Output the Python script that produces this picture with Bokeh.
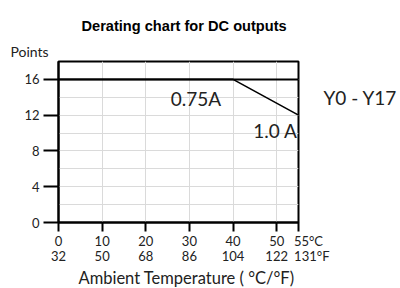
from bokeh.plotting import figure
from bokeh.models import Title, FixedTicker, SingleIntervalTicker, LinearAxis, Label
from bokeh.embed import file_html
from bokeh.resources import INLINE

# ---- data ----
title_text = "Derating chart for DC outputs"
x_axis_title = "Ambient Temperature ( °C/°F)"
y_axis_title = "Points"
group_label = "Y0 - Y17"

celsius_ticks = [0, 10, 20, 30, 40, 50, 55]
celsius_labels = ["0", "10", "20", "30", "40", "50", "55°C"]
fahrenheit_labels = ["32", "50", "68", "86", "104", "122", "131°F"]
points_ticks = [0, 4, 8, 12, 16]

series_075_name = "0.75A"
temp_075 = [0, 55]
points_075 = [16, 16]

series_100_name = "1.0 A"
temp_100 = [0, 40, 55]
points_100 = [16, 16, 12]

FONT = "Lato"
TXT = "#222222"
NB = "\u00a0"

p = figure(width=400, height=288, x_range=(0, 55), y_range=(0, 18),
           output_backend="svg", toolbar_location=None, title=None,
           min_border_left=58, min_border_right=102,
           min_border_top=61, min_border_bottom=66)

p.outline_line_color = "black"
p.outline_line_width = 2
p.outline_line_alpha = 1

# titles above (first = nearest to the frame)
p.add_layout(Title(text=y_axis_title, align="left", offset=-48,
                   text_font=FONT, text_font_size="14px", text_font_style="normal",
                   text_color=TXT, standoff=4), "above")
p.add_layout(Title(text=title_text, align="left", offset=23,
                   text_font="Liberation Sans", text_font_size="14.6px",
                   text_font_style="bold", text_color="black", standoff=10), "above")

# x axis: two-row tick labels (°C over °F); last one starts at its tick
labels = {}
for i, (t, c, f) in enumerate(zip(celsius_ticks, celsius_labels, fahrenheit_labels)):
    if i == len(celsius_ticks) - 1:
        labels[t] = NB * 6 + c + "\n" + NB * 8 + f
    else:
        labels[t] = c + "\n" + f

xa = p.xaxis[0]
xa.ticker = FixedTicker(ticks=celsius_ticks)
xa.major_label_overrides = labels
xa.major_tick_out = 9
xa.major_tick_in = 0
xa.minor_tick_out = 0
xa.minor_tick_in = 0
xa.major_tick_line_width = 2
xa.axis_line_width = 2
xa.major_label_standoff = 1
xa.major_label_text_font = FONT
xa.major_label_text_font_size = "13px"
xa.major_label_text_line_height = 0.98
xa.major_label_text_color = TXT

p.add_layout(Title(text=x_axis_title, align="left", offset=20,
                   text_font=FONT, text_font_size="16.5px", text_font_style="normal",
                   text_color=TXT, standoff=-4), "below")

ya = p.yaxis[0]
ya.ticker = FixedTicker(ticks=points_ticks)
ya.major_tick_out = 15
ya.major_tick_in = 0
ya.minor_tick_out = 0
ya.minor_tick_in = 0
ya.major_tick_line_width = 2
ya.axis_line_width = 2
ya.major_label_standoff = 4
ya.major_label_text_font = FONT
ya.major_label_text_font_size = "13px"
ya.major_label_text_color = TXT

# right-hand group label as a single-tick axis
ra = LinearAxis(ticker=FixedTicker(ticks=[14]),
                major_label_overrides={14: group_label},
                axis_line_color=None, major_tick_line_color=None,
                minor_tick_line_color=None, major_tick_out=0, major_tick_in=0,
                major_label_standoff=25, major_label_text_font=FONT,
                major_label_text_font_size="19px", major_label_text_color=TXT)
p.add_layout(ra, "right")

p.xgrid.ticker = FixedTicker(ticks=celsius_ticks)
p.ygrid.ticker = SingleIntervalTicker(interval=2)
p.xgrid.grid_line_color = "#dadada"
p.ygrid.grid_line_color = "#dadada"
p.xgrid.grid_line_width = 1
p.ygrid.grid_line_width = 1
p.xgrid.grid_line_alpha = 1
p.ygrid.grid_line_alpha = 1

p.line(temp_075, points_075, line_color="black", line_width=2)
p.line(temp_100, points_100, line_color="black", line_width=1.6)

p.add_layout(Label(x=40, y=16, text=series_075_name, text_align="right",
                   text_baseline="alphabetic", x_offset=-12, y_offset=-19,
                   text_font=FONT, text_font_size="19px", text_color=TXT))
p.add_layout(Label(x=55, y=12, text=series_100_name, text_align="right",
                   text_baseline="alphabetic", x_offset=-1, y_offset=-15,
                   text_font=FONT, text_font_size="19px", text_color=TXT))

open("out.html", "w").write(file_html(p, INLINE))
